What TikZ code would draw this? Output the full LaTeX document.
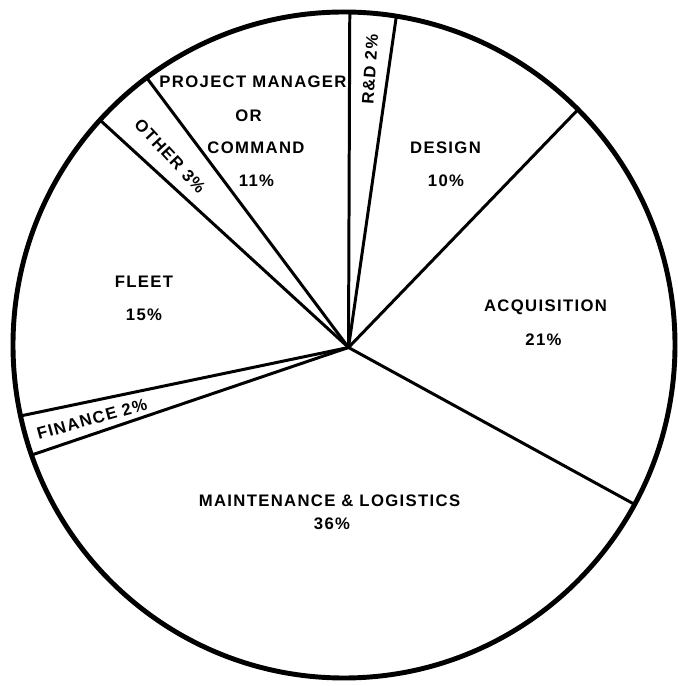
\documentclass[tikz,border=0pt]{standalone}
\usepackage{fontspec}
\setmainfont{Liberation Sans}[LetterSpace=8.0]
\usetikzlibrary{calc}

\begin{document}
\begin{tikzpicture}[x = 0.02cm, y = 0.02cm, every node/.style={font=\bfseries\fontsize{9.5}{11}\selectfont, inner sep=0pt}]
    % Size of the scanned page
    \useasboundingbox (0,0) rectangle (678,686);
    % Centre of the circle and point where the cuts meet
    \coordinate (C) at (344,341);
    \coordinate (O) at (348.5,338.5);
    % Outline
    \draw[line width=2.8pt] (C) ellipse (331 and 333);
    % Cuts between the slices
    \foreach \a in {89.0, 80.9, 45.0, -28.6, 199.3, 192.3, 137.5, 126.6}
    {
        \draw[line width=1.7pt] (O) -- ($(C)+(\a:331 and 333)$);
    }
    % Labels
    \node[draw=none] (pmtop) at (253, 604.5) {PROJECT MANAGER};
    \node[draw=none] (pmor) at (248.5, 570.5) {OR};
    \node[draw=none] (pmcmd) at (256, 538.5) {COMMAND};
    \node[draw=none] (pmpct) at (256.5, 505.5) {11\%};
    \node[draw=none, rotate= 86 ] (rnd) at (370, 616.5) {R\&D 2\%};
    \node[draw=none] (design) at (445.5, 538) {DESIGN};
    \node[draw=none] (designpct) at (446, 505.5) {10\%};
    \node[draw=none] (acq) at (545.5, 379) {ACQUISITION};
    \node[draw=none] (acqpct) at (543.5, 346.5) {21\%};
    \node[draw=none] (fleet) at (144, 404) {FLEET};
    \node[draw=none] (fleetpct) at (144, 371) {15\%};
    \node[draw=none, rotate= -47 ] (other) at (170, 530) {OTHER 3\%};
    \node[draw=none, rotate= 15.5 ] (finance) at (92, 267) {FINANCE 2\%};
    \node[draw=none] (maint) at (329.5, 185.5) {MAINTENANCE \& LOGISTICS};
    \node[draw=none] (maintpct) at (332, 162) {36\%};
\end{tikzpicture}
\end{document}
